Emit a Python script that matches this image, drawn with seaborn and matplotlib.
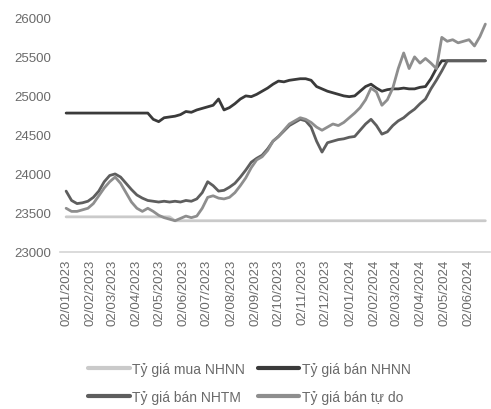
import pandas as pd
import matplotlib
matplotlib.use("Agg")
import matplotlib.pyplot as plt
import matplotlib.dates as mdates
import seaborn as sns

# Weekly readings, 02/01/2023 -> late 06/2024
dates = pd.date_range("2023-01-02", periods=78, freq="7D")

mua_nhnn = [
    23450, 23450, 23450, 23450, 23450, 23450, 23450, 23450, 23450, 23450,
    23450, 23450, 23450, 23450, 23450, 23450, 23450, 23450, 23450, 23450,
    23400, 23400, 23400, 23400, 23400, 23400, 23400, 23400, 23400, 23400,
    23400, 23400, 23400, 23400, 23400, 23400, 23400, 23400, 23400, 23400,
    23400, 23400, 23400, 23400, 23400, 23400, 23400, 23400, 23400, 23400,
    23400, 23400, 23400, 23400, 23400, 23400, 23400, 23400, 23400, 23400,
    23400, 23400, 23400, 23400, 23400, 23400, 23400, 23400, 23400, 23400,
    23400, 23400, 23400, 23400, 23400, 23400, 23400, 23400,
]

ban_nhnn = [
    24780, 24780, 24780, 24780, 24780, 24780, 24780, 24780, 24780, 24780,
    24780, 24780, 24780, 24780, 24780, 24780, 24700, 24670, 24720, 24730,
    24740, 24760, 24800, 24790, 24820, 24840, 24860, 24880, 24960, 24820,
    24850, 24900, 24960, 25000, 24990, 25020, 25060, 25100, 25150, 25190,
    25180, 25200, 25210, 25220, 25220, 25200, 25120, 25090, 25060, 25040,
    25020, 25000, 24990, 25000, 25060, 25120, 25150, 25100, 25060, 25080,
    25090, 25090, 25100, 25090, 25090, 25110, 25120, 25220, 25350, 25450,
    25450, 25450, 25450, 25450, 25450, 25450, 25450, 25450,
]

ban_nhtm = [
    23780, 23660, 23620, 23630, 23650, 23700, 23780, 23900, 23980, 24000,
    23960, 23880, 23800, 23730, 23690, 23660, 23650, 23640, 23650, 23640,
    23650, 23640, 23660, 23650, 23680, 23760, 23900, 23850, 23780, 23790,
    23830, 23880, 23960, 24050, 24150, 24200, 24240, 24320, 24420, 24480,
    24550, 24620, 24660, 24700, 24680, 24600, 24420, 24280, 24400, 24420,
    24440, 24450, 24470, 24480, 24560, 24640, 24700, 24620, 24510, 24540,
    24620, 24680, 24720, 24780, 24830, 24900, 24960, 25090, 25200, 25320,
    25450, 25450, 25450, 25450, 25450, 25450, 25450, 25450,
]

ban_tu_do = [
    23560, 23520, 23520, 23540, 23560, 23620, 23720, 23820, 23900, 23960,
    23880, 23760, 23640, 23560, 23520, 23560, 23520, 23470, 23440, 23420,
    23400, 23430, 23460, 23440, 23460, 23560, 23700, 23720, 23690, 23680,
    23700, 23760, 23850, 23950, 24080, 24180, 24220, 24300, 24420, 24480,
    24560, 24640, 24680, 24720, 24700, 24660, 24600, 24560, 24600, 24640,
    24620, 24660, 24720, 24780, 24850, 24950, 25100, 25050, 24880, 24950,
    25100, 25350, 25550, 25350, 25500, 25420, 25480, 25420, 25350, 25750,
    25700, 25720, 25680, 25700, 25720, 25640, 25760, 25920,
]

names = ["Tỷ giá mua NHNN", "Tỷ giá bán NHNN", "Tỷ giá bán NHTM", "Tỷ giá bán tự do"]
colors = ["#cacaca", "#3a3a3a", "#5e5e5e", "#8e8e8e"]
tick_dates = pd.date_range("2023-01-01", "2024-06-01", freq="MS") + pd.Timedelta(days=1)

df = pd.DataFrame({"date": dates, names[0]: mua_nhnn, names[1]: ban_nhnn,
                   names[2]: ban_nhtm, names[3]: ban_tu_do})
long = df.melt(id_vars="date", var_name="series", value_name="rate")

sns.set_style("white")
plt.rcParams["font.family"] = ["Liberation Sans", "DejaVu Sans"]

fig = plt.figure(figsize=(4.91, 4.10), dpi=100)
ax = fig.add_axes([0.122, 0.383, 0.876, 0.571])

sns.lineplot(data=long, x="date", y="rate", hue="series", hue_order=names,
             palette=colors, linewidth=2.0, legend=False, ax=ax)

ax.set_ylim(23000, 26000)
ax.set_yticks([23000, 23500, 24000, 24500, 25000, 25500, 26000])
ax.set_xlim(pd.Timestamp("2022-12-25"), pd.Timestamp("2024-06-30"))
ax.set_xticks(tick_dates)
ax.xaxis.set_major_formatter(mdates.DateFormatter("%d/%m/%Y"))
ax.tick_params(axis="x", labelrotation=90, labelsize=9.5, colors="#6a6a6a", length=0, pad=5)
ax.tick_params(axis="y", labelsize=9.5, colors="#6a6a6a", length=0, pad=6)
ax.set_xlabel("")
ax.set_ylabel("")
for s in ["top", "right", "left"]:
    ax.spines[s].set_visible(False)
ax.spines["bottom"].set_color("#d4d4d4")
ax.spines["bottom"].set_linewidth(1.2)

handles = [plt.Line2D([], [], color=c, linewidth=3) for c in colors]
order = [0, 2, 1, 3]
fig.legend([handles[i] for i in order], [names[i] for i in order],
           loc="upper center", bbox_to_anchor=(0.508, 0.145), ncol=2,
           frameon=False, fontsize=10, handlelength=3.0, handletextpad=0.2,
           columnspacing=0.9, labelspacing=1.0, labelcolor="#6a6a6a")

fig.savefig("out.png", dpi=100)
